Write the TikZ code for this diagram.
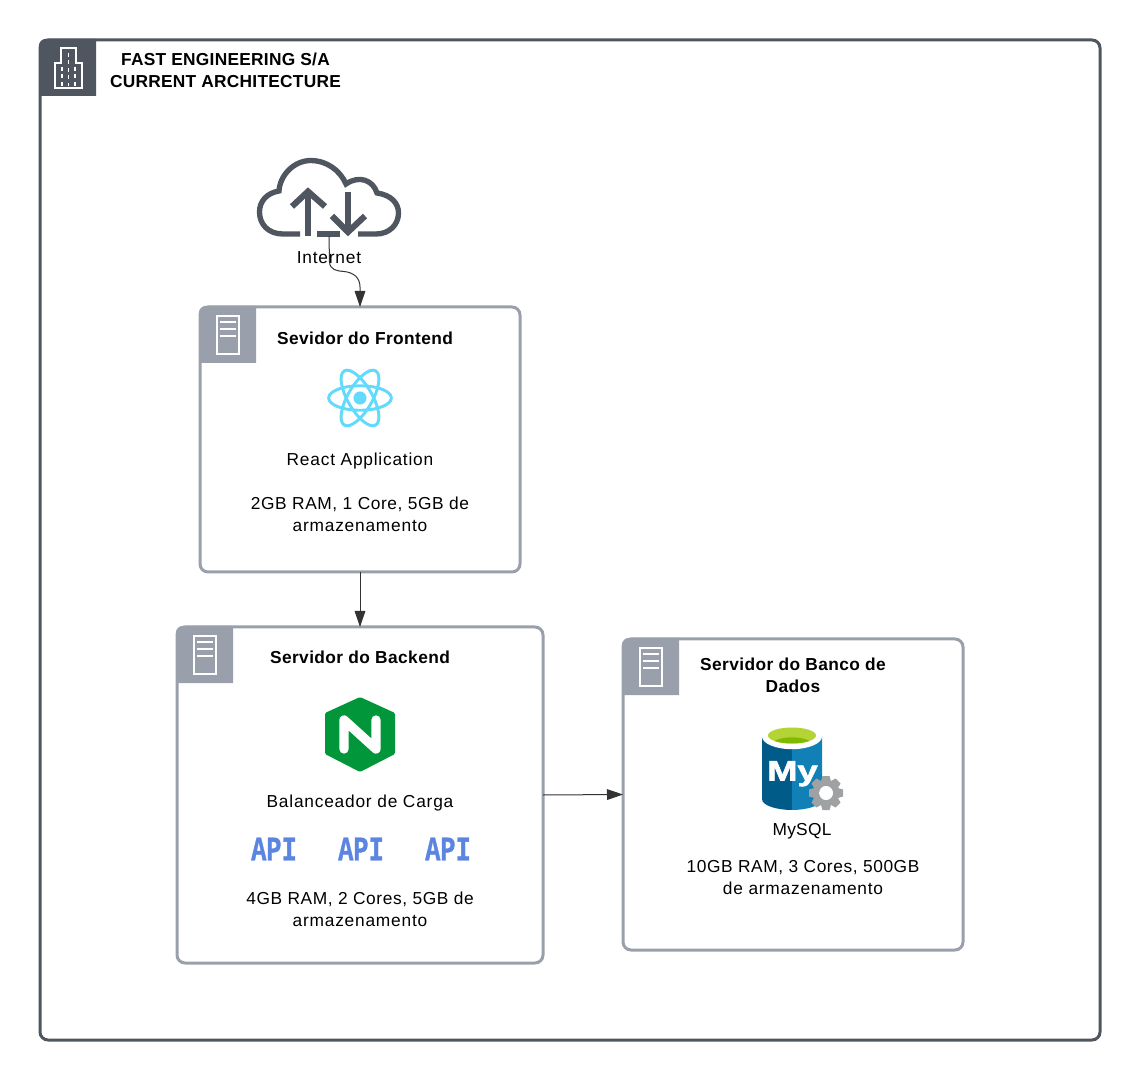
\documentclass[tikz,border=0pt]{standalone}
\usepackage{fontspec}
\setmainfont[LetterSpace=1.5]{Liberation Sans}
\newfontfamily\apifont[BoldFont={Liberation Mono Bold},BoldFeatures={FakeBold=1.2}]{Liberation Mono}
\newfontfamily\myfont[BoldFont={Liberation Sans Bold},BoldFeatures={FakeBold=2}]{Liberation Sans}
\newfontfamily\wideA[LetterSpace=4.5]{Liberation Sans}
\newfontfamily\wideB[LetterSpace=3.4]{Liberation Sans}
\newfontfamily\wideC[LetterSpace=2.3]{Liberation Sans}
\usetikzlibrary{arrows.meta}
\definecolor{dk}{HTML}{4F5660}
\definecolor{gy}{HTML}{9AA0AB}
\definecolor{arrowc}{HTML}{333333}
\definecolor{reactc}{HTML}{61DAFB}
\definecolor{ngc}{HTML}{009639}
\definecolor{apic}{HTML}{5B85E0}
\definecolor{cyl}{HTML}{005B89}
\definecolor{cyr}{HTML}{1080B6}
\definecolor{gear}{HTML}{A0A1A2}
\definecolor{limeA}{HTML}{B4D334}
\definecolor{limeB}{HTML}{7FBA00}
\tikzset{
  x=0.75pt,y=-0.75pt,
  outerbox/.style={draw=dk,line width=2.25pt,rounded corners=6pt,fill=white,minimum width=795pt,minimum height=750pt,outer sep=0pt,inner sep=0pt},
  srvbox/.style={draw=gy,line width=2.25pt,rounded corners=6pt,fill=white,outer sep=0pt,inner sep=0pt},
  txt/.style={font=\fontsize{13pt}{16.5pt}\selectfont\wideA,align=center,inner sep=0pt,text=black},
  spec/.style={font=\fontsize{13pt}{16.5pt}\selectfont\wideB,align=center,inner sep=0pt,text=black},
  bold/.style={font=\fontsize{13pt}{16.5pt}\selectfont\wideC\bfseries,align=center,inner sep=0pt,text=black},
  titletxt/.style={font=\fontsize{13pt}{16.5pt}\selectfont\bfseries,align=center,inner sep=0pt,text=black},
  apitxt/.style={font=\fontsize{19pt}{19pt}\selectfont\apifont\bfseries,text=apic,inner sep=0pt},
  conn/.style={draw=arrowc,line width=0.75pt},
  tip/.style={-{Triangle[length=12pt,width=8pt]}},
  icon/.style={draw=white,line width=1.1pt},
}
\newcommand{\srvheader}[2]{%
  \begin{scope}[shift={(#1,#2)}]
    \fill[gy] (-1,56) [rounded corners=5pt] -- (-1,-1) [sharp corners] -- (56,-1) -- (56,56) -- cycle;
    \draw[icon] (17,9) rectangle (39,47);
    \draw[icon] (20,15) -- (36,15) (20,22) -- (36,22) (20,29) -- (36,29);
  \end{scope}}
\begin{document}
\begin{tikzpicture}
\path[use as bounding box,fill=white] (0,0) rectangle (1140,1080);
\node[outerbox] (outer) at (570,540) {};
\fill[dk] (39,96) [rounded corners=5pt] -- (39,39) [sharp corners] -- (96,39) -- (96,96) -- cycle;
\draw[icon] (61,63) -- (61,48) -- (76,48) -- (76,63) -- (82,63) -- (82,88) -- (55,88) -- (55,63) -- cycle;
\draw[white,line width=1pt,dash pattern=on 3pt off 2.6pt]
  (68.5,53) -- (68.5,86) (62,67) -- (62,86) (75,67) -- (75,86);
\node[titletxt] (title) at (225.5,70) {FAST ENGINEERING S/A\\CURRENT ARCHITECTURE};

% cloud
\begin{scope}[line cap=butt]
\draw[dk,line width=4pt] (300,234) -- (283,234) .. controls (268,234) and (259.5,224) .. (259.5,212)
  .. controls (259.5,201) and (267,193) .. (279,191)
  .. controls (280,175) and (294,160.5) .. (311,160.5)
  .. controls (326,160.5) and (340,170) .. (346,184)
  .. controls (359,175) and (373,180) .. (377,193)
  .. controls (391,195) and (398.5,203) .. (398.5,213)
  .. controls (398.5,225) and (389,234) .. (376,234) -- (358,234);
\draw[dk,line width=4pt] (317,234) -- (340,234);
\draw[dk,line width=4.6pt] (308,236) -- (308,193);
\draw[dk,line width=4.6pt] (292,206.5) -- (308,191.5) -- (325,206.5);
\draw[dk,line width=4.6pt] (348,192) -- (348,231);
\draw[dk,line width=4.6pt] (332,216) -- (348,232) -- (365,216);
\end{scope}
\coordinate (cloudout) at (329,236);
\node[txt] (internet) at (329,258) {Internet};

% frontend
\node[srvbox,minimum width=240pt,minimum height=198.75pt] (front) at (360,439.5) {};
\srvheader{200}{307}
\node[bold] (fronttitle) at (365,338) {Sevidor do Frontend};
\begin{scope}[draw=reactc,line width=2.2pt]
\draw (360,398) ellipse [x radius=23.5pt,y radius=9.2pt];
\draw[rotate around={60:(360,398)}] (360,398) ellipse [x radius=23.5pt,y radius=9.2pt];
\draw[rotate around={120:(360,398)}] (360,398) ellipse [x radius=23.5pt,y radius=9.2pt];
\end{scope}
\fill[reactc] (360,398) circle [radius=4.9pt];
\node[txt] (reacttxt) at (360,461) {React Application};
\node[spec] (frontspec) at (360,514) {2GB RAM, 1 Core, 5GB de\\{\wideA armazenamento}};

% backend
\node[srvbox,minimum width=274.5pt,minimum height=252pt] (back) at (360,795) {};
\srvheader{177}{627}
\node[bold] (backtitle) at (360,657) {Servidor do Backend};
\fill[ngc,rounded corners=1pt] (360,697) -- (395,713) -- (395,754) -- (360,772) -- (325,754) -- (325,713) -- cycle;
\draw[white,line width=7pt,line join=round,line cap=round] (344,749) -- (344,720) -- (376,749) -- (376,720);
\node[txt] (balancer) at (360,803) {Balanceador de Carga};
\node[apitxt] (api1) at (274,849) {\scalebox{1}[1.35]{API}};
\node[apitxt] (api2) at (361,849) {\scalebox{1}[1.35]{API}};
\node[apitxt] (api3) at (448,849) {\scalebox{1}[1.35]{API}};
\node[spec] (backspec) at (360,909) {4GB RAM, 2 Cores, 5GB de\\{\wideA armazenamento}};

% database
\node[srvbox,minimum width=255pt,minimum height=233.25pt] (db) at (793,794.5) {};
\srvheader{623}{639}
\node[bold] (dbtitle) at (793,675) {Servidor do Banco de\\Dados};
% cylinder
\fill[cyl] (792,736) -- (762,736) -- (762,799) .. controls (762,806) and (778,810) .. (792,810) -- cycle;
\fill[cyr] (792,736) -- (822,736) -- (822,799) .. controls (822,806) and (806,810) .. (792,810) -- cycle;
\fill[white] (792,736.5) ellipse [x radius=22.5pt,y radius=9.5pt];
\fill[limeA] (792,735.5) ellipse [x radius=18pt,y radius=6pt];
\begin{scope}
\clip (792,735.5) ellipse [x radius=18pt,y radius=6pt];
\fill[limeB] (792,746) ellipse [x radius=16pt,y radius=6.5pt];
\end{scope}
\node[font=\fontsize{21pt}{21pt}\selectfont\myfont\bfseries,text=white,inner sep=0pt,anchor=base] (mytxt) at (792.5,780.5) {\scalebox{1.3}[1]{My}};
% gear
\foreach \a in {0,45,...,315} {
  \fill[gear,rotate around={\a:(826,793)}] (820.5,783) -- (822.5,776) -- (829.5,776) -- (831.5,783) -- cycle;
}
\draw[gear,line width=3.75pt] (826,793) circle [radius=7.1pt];
\fill[white] (826,793) circle [radius=5.2pt];
\node[txt,font=\fontsize{13pt}{16.5pt}\selectfont] (mysqltxt) at (802,831) {MySQL};
\node[spec] (dbspec) at (803,878) {10GB RAM, 3 Cores, 500GB\\{\wideA de armazenamento}};

% connectors
\draw[conn,tip] (cloudout) -- (329.5,262) .. controls (330,270) and (337,271) .. (344,271.5) .. controls (354,272.5) and (360,278) .. (360,287) -- (front.north);
\draw[conn,tip] (front.south) -- (back.north);
\draw[conn,tip] (back.east) -- (db.west);
\end{tikzpicture}
\end{document}
